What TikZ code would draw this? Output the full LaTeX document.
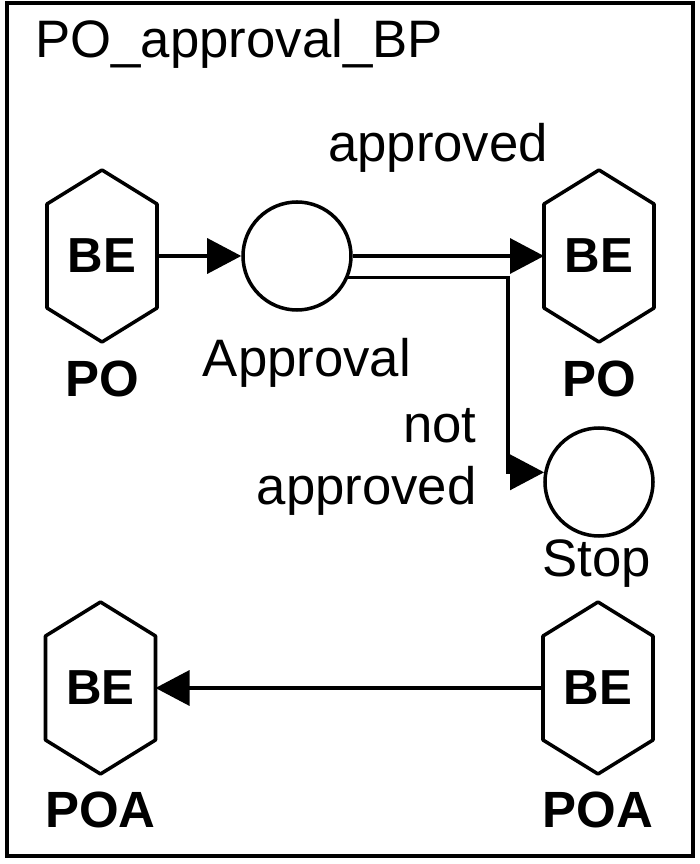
\documentclass[tikz,border=0pt]{standalone}
\usepackage{fontspec}
\setmainfont{Liberation Sans}
\usetikzlibrary{arrows.meta}
\usetikzlibrary{positioning}

\begin{document}
\begin{tikzpicture}[
    every node/.style={inner sep=0pt, font=\fontsize{30}{36}\selectfont},
    entity/.style={rectangle, minimum width=2.2cm, minimum height=3.44cm,
        outer sep=0pt, font=\fontsize{28}{34}\selectfont\bfseries},
    process/.style={circle, draw, line width=2pt, minimum size=2.16cm},
    caption/.style={font=\fontsize{29}{35}\selectfont\bfseries},
    flow/.style={line width=1.9pt, -{Triangle[length=0.68cm, width=0.7cm]}},
]

\useasboundingbox (0,0) rectangle (14,17.28);
\draw[line width=2pt] (0.14,0.16) rectangle (13.86,17.22);

\node[anchor=base west] (title) at (0.70,16.12) {PO\_approval\_BP};

% business entities and processes
\node[entity] (po1) at (2.04,12.16) {BE};
\node[process] (appr) at (5.94,12.16) {};
\node[entity] (po2) at (11.98,12.16) {BE};
\node[process] (stop) at (11.98,7.64) {};
\node[entity] (poa1) at (2.01,3.52) {BE};
\node[entity] (poa2) at (11.96,3.52) {BE};

% hexagon outlines round the BE nodes
\foreach \n in {po1,po2,poa1,poa2}
  \draw[line width=2pt, line join=round] (\n.north)
    -- ([yshift=-0.68cm]\n.north east) -- ([yshift=0.68cm]\n.south east)
    -- (\n.south)
    -- ([yshift=0.68cm]\n.south west) -- ([yshift=-0.68cm]\n.north west)
    -- cycle;

\node[caption, below=0.38cm of po1] (po1lab) {PO};
\node[caption, below=0.38cm of po2] (po2lab) {PO};
\node[caption, below=0.36cm of poa1] (poa1lab) {POA};
\node[caption, below=0.36cm of poa2] (poa2lab) {POA};

\node[anchor=base] (apprlab) at (6.14,9.74) {Approval};
\node[anchor=base] (stoplab) at (11.94,5.74) {Stop};
\node[anchor=base] (oklab) at (8.76,14.04) {approved};
\node[anchor=base east] (notlab) at (9.54,8.42) {not};
\node[anchor=base east] (noklab) at (9.54,7.18) {approved};

% flows
\coordinate (turn) at (10.16,9);
\draw[flow] (po1) -- (appr);
\draw[flow] (appr) -- (po2);
\draw[flow] (appr.-23) -| (turn) |- (stop.170);
\draw[flow] (poa2) -- (poa1);

\end{tikzpicture}
\end{document}
